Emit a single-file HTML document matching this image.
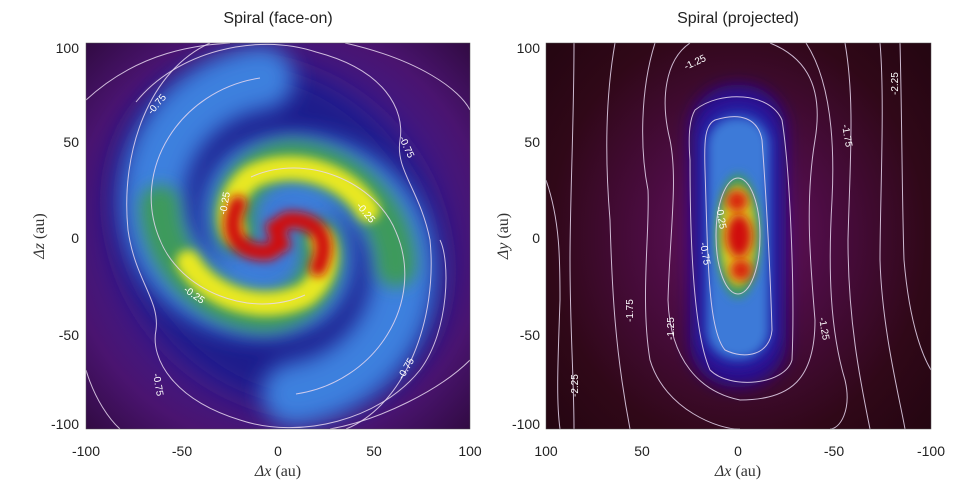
<!DOCTYPE html>
<html><head><meta charset="utf-8"><style>
body{margin:0;background:#fff;}
svg{display:block;font-family:"Liberation Sans",sans-serif;}
.t{font-size:14px;fill:#222;}
.ti{font-size:16px;fill:#222;}
.ax{font-family:"Liberation Serif",serif;font-size:16px;fill:#333;}
.c{fill:none;stroke:#e8d8f0;stroke-width:1;opacity:.85}
.cl{font-size:10px;fill:#fff;}
</style></head><body>
<svg width="969" height="499" viewBox="0 0 969 499">
<defs>
<clipPath id="cL"><rect x="86" y="43" width="384" height="386"/></clipPath>
<clipPath id="cR"><rect x="546" y="43" width="385" height="386"/></clipPath>
<radialGradient id="bgL" cx="278" cy="236" r="290" gradientUnits="userSpaceOnUse">
<stop offset="0" stop-color="#3a1aa0"/><stop offset="0.5" stop-color="#3c1a8a"/><stop offset="0.72" stop-color="#4a1470"/><stop offset="1" stop-color="#2a0835"/></radialGradient>
<radialGradient id="bgR" cx="738" cy="236" r="300" gradientUnits="userSpaceOnUse" gradientTransform="translate(738 236) scale(0.9 1) translate(-738 -236)">
<stop offset="0" stop-color="#6a1268"/><stop offset="0.35" stop-color="#4a0c40"/><stop offset="0.7" stop-color="#300818"/><stop offset="1" stop-color="#220510"/></radialGradient>
<filter id="b10" x="-50%" y="-50%" width="200%" height="200%"><feGaussianBlur stdDeviation="11"/></filter>
<filter id="b8" x="-50%" y="-50%" width="200%" height="200%"><feGaussianBlur stdDeviation="8"/></filter>
<filter id="b5" x="-50%" y="-50%" width="200%" height="200%"><feGaussianBlur stdDeviation="5"/></filter>
<filter id="b15" x="-50%" y="-50%" width="200%" height="200%"><feGaussianBlur stdDeviation="15"/></filter>
</defs>

<!-- LEFT -->
<g clip-path="url(#cL)">
<rect x="86" y="43" width="384" height="386" fill="url(#bgL)"/>
<ellipse cx="278" cy="236" rx="150" ry="185" transform="rotate(-40 278 236)" fill="#1a1a8c" filter="url(#b15)"/>
<g filter="url(#b10)" fill="none" stroke-linecap="round">
<path d="M262,78 C180,90 135,170 160,240 C185,300 260,320 305,295 C335,270 320,230 290,225" stroke="#3c80de" stroke-width="64"/>
<path d="M294,394 C376,382 421,302 396,232 C371,172 296,152 251,177 C221,202 236,242 266,247" stroke="#3c80de" stroke-width="64"/>
<circle cx="278" cy="236" r="50" fill="#3c7ad8" stroke="none"/>
</g>
<g filter="url(#b8)" fill="none" stroke-linecap="round">
<path d="M160,205 C160,260 210,310 265,312 C300,310 330,280 320,240" stroke="#3e9a5c" stroke-width="40"/>
<path d="M396,267 C396,212 346,162 291,160 C256,162 226,192 236,232" stroke="#3e9a5c" stroke-width="40"/>
</g>
<g filter="url(#b5)" fill="none" stroke-linecap="round">
<path d="M188,262 C210,300 265,315 305,295 C325,280 330,255 322,240" stroke="#e8e820" stroke-width="24"/>
<path d="M368,210 C346,172 291,157 251,177 C231,192 226,217 234,232" stroke="#e8e820" stroke-width="24"/>
</g>
<g filter="url(#b5)" fill="none" stroke-linecap="round">
<path d="M318,268 C332,240 318,218 288,220 C276,224 274,236 282,244" stroke="#d01010" stroke-width="17"/>
<path d="M238,204 C224,232 238,254 268,252 C280,248 282,236 274,228" stroke="#d01010" stroke-width="17"/>
</g>
<!-- contours -->
<path class="c" d="M86,100 C140,50 200,45 230,43"/>
<path class="c" d="M345,43 C420,60 460,90 470,110"/>
<path class="c" d="M86,370 C95,400 110,420 120,429"/>
<path class="c" d="M330,429 C380,420 440,390 470,360"/>
<path class="c" d="M210,43 C150,70 120,150 128,230 C135,280 160,300 156,330 C150,360 175,400 240,420 C300,440 380,420 420,370 C450,330 450,260 440,240"/>
<path class="c" d="M346,429 C405,405 438,320 430,240 C420,190 395,170 400,140 C405,110 385,70 316,52 C256,32 176,52 136,102"/>
<path class="c" d="M260,78 C180,90 130,170 160,240 C180,290 250,320 305,295"/>
<path class="c" d="M296,394 C376,382 426,302 396,232 C376,182 306,152 251,177"/>
<text class="cl" transform="translate(152,115) rotate(-50)">-0.75</text>
<text class="cl" transform="translate(399,138) rotate(65)">-0.75</text>
<text class="cl" transform="translate(403,380) rotate(-60)">-0.75</text>
<text class="cl" transform="translate(153,374) rotate(80)">-0.75</text>
<text class="cl" transform="translate(226,215) rotate(-80)">-0.25</text>
<text class="cl" transform="translate(356,206) rotate(50)">-0.25</text>
<text class="cl" transform="translate(183,291) rotate(35)">-0.25</text>
</g>
<rect x="86" y="43" width="384" height="386" fill="none" stroke="#555" stroke-width="0.5"/>
<text class="ti" x="278" y="23" text-anchor="middle">Spiral (face-on)</text>
<g class="t" text-anchor="end">
<text x="79" y="53">100</text><text x="79" y="147">50</text><text x="79" y="243">0</text><text x="79" y="340">-50</text><text x="79" y="429">-100</text>
</g>
<g class="t" text-anchor="middle">
<text x="86" y="456">-100</text><text x="182" y="456">-50</text><text x="278" y="456">0</text><text x="374" y="456">50</text><text x="470" y="456">100</text>
</g>
<text class="ax" x="278" y="476" text-anchor="middle"><tspan font-style="italic">Δx</tspan> (au)</text>
<text class="ax" transform="translate(44,236) rotate(-90)" text-anchor="middle"><tspan font-style="italic">Δz</tspan> (au)</text>

<!-- RIGHT -->
<g clip-path="url(#cR)">
<rect x="546" y="43" width="385" height="386" fill="url(#bgR)"/>
<rect x="690" y="85" width="96" height="302" rx="45" fill="#2a1090" filter="url(#b8)"/>
<rect x="702" y="108" width="72" height="256" rx="34" fill="#2030b0" filter="url(#b8)"/>
<rect x="708" y="118" width="60" height="240" rx="28" fill="#3c7ad8" filter="url(#b5)"/>
<ellipse cx="738" cy="236" rx="22" ry="62" fill="#3e9a5c" filter="url(#b5)"/>
<ellipse cx="738" cy="236" rx="17" ry="50" fill="#e8e020" filter="url(#b5)"/>
<ellipse cx="737" cy="201" rx="11" ry="11" fill="#d82010" filter="url(#b5)"/>
<ellipse cx="739" cy="236" rx="13" ry="22" fill="#d01010" filter="url(#b5)"/>
<ellipse cx="741" cy="270" rx="11" ry="11" fill="#d82010" filter="url(#b5)"/>
<!-- closed contours -->
<ellipse class="c" cx="738" cy="236" rx="22" ry="58" opacity=".6"/>
<path class="c" d="M715,120 C740,112 758,118 762,140 C765,180 770,260 772,330 C770,355 745,360 725,350 C708,330 708,260 705,170 C704,140 705,125 715,120 Z"/>
<path class="c" d="M695,110 C720,90 770,92 782,120 C790,170 795,290 792,360 C785,385 730,390 710,370 C692,330 690,220 690,160 C688,135 690,118 695,110 Z"/>
<!-- open contours -->
<path class="c" d="M690,43 C665,60 660,100 670,140 C678,180 670,230 668,300 C670,360 700,392 740,400 C790,400 815,380 815,320 C810,260 805,200 815,140 C825,80 800,55 770,43"/>
<path class="c" d="M655,43 C640,90 640,150 648,190 C650,230 640,300 650,360 C665,410 720,430 740,429"/>
<path class="c" d="M806,43 C830,80 835,140 832,200 C828,270 830,330 845,380 C852,410 840,429 830,429"/>
<path class="c" d="M615,43 C605,100 605,160 610,220 C612,290 615,350 630,429"/>
<path class="c" d="M845,43 C855,100 850,160 848,240 C848,320 860,380 870,429"/>
<path class="c" d="M574,43 C574,120 570,200 570,260 C570,330 574,380 574,429"/>
<path class="c" d="M900,43 C902,120 902,200 904,260 C910,330 925,360 931,370"/>
<path class="c" d="M546,180 C560,220 560,260 560,300 C558,360 556,400 560,429"/>
<path class="c" d="M880,43 C885,100 880,200 880,260 C882,330 900,400 905,429"/>
<text class="cl" transform="translate(686,70) rotate(-25)">-1.25</text>
<text class="cl" transform="translate(842,125) rotate(80)">-1.75</text>
<text class="cl" transform="translate(898,95) rotate(-90)">-2.25</text>
<text class="cl" transform="translate(633,322) rotate(-90)">-1.75</text>
<text class="cl" transform="translate(674,340) rotate(-90)">-1.25</text>
<text class="cl" transform="translate(819,318) rotate(80)">-1.25</text>
<text class="cl" transform="translate(578,397) rotate(-90)">-2.25</text>
<text class="cl" transform="translate(700,243) rotate(80)">-0.75</text>
<text class="cl" transform="translate(716,207) rotate(80)">-0.25</text>
</g>
<rect x="546" y="43" width="385" height="386" fill="none" stroke="#555" stroke-width="0.5"/>
<text class="ti" x="738" y="23" text-anchor="middle">Spiral (projected)</text>
<g class="t" text-anchor="end">
<text x="540" y="53">100</text><text x="540" y="147">50</text><text x="540" y="243">0</text><text x="540" y="340">-50</text><text x="540" y="429">-100</text>
</g>
<g class="t" text-anchor="middle">
<text x="546" y="456">100</text><text x="642" y="456">50</text><text x="738" y="456">0</text><text x="834" y="456">-50</text><text x="931" y="456">-100</text>
</g>
<text class="ax" x="738" y="476" text-anchor="middle"><tspan font-style="italic">Δx</tspan> (au)</text>
<text class="ax" transform="translate(508,236) rotate(-90)" text-anchor="middle"><tspan font-style="italic">Δy</tspan> (au)</text>
</svg>
</body></html>
